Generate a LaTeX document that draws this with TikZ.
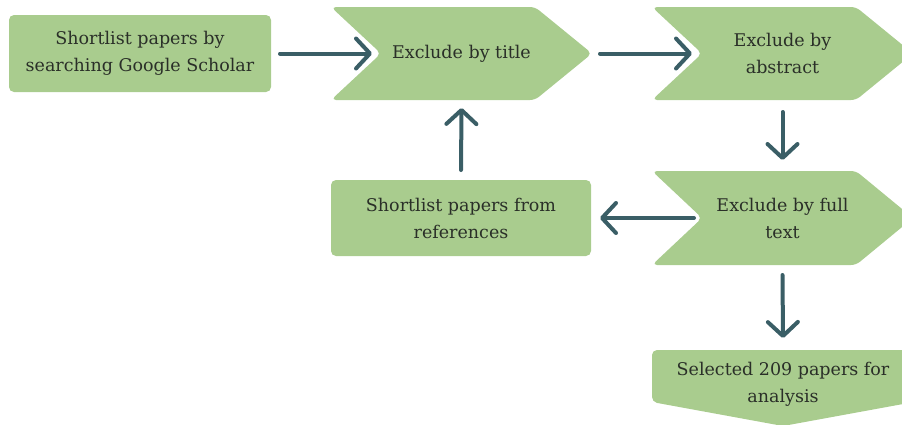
\documentclass[tikz,border=0pt]{standalone}
\usepackage{fontspec}
\setmainfont{DejaVu Serif}
\usetikzlibrary{arrows.meta,backgrounds}

\definecolor{boxgreen}{HTML}{A9CC8E}
\definecolor{arrowteal}{HTML}{3A5E66}
\definecolor{inkdark}{HTML}{2A2F28}

\tikzset{
  frame/.style={rectangle, draw=none, inner sep=0pt, outer sep=0pt, align=center,
    text=inkdark, font=\fontsize{17.5}{27}\selectfont},
  flowarrow/.style={draw=arrowteal, line width=4pt, line cap=round,
    -{Straight Barb[length=14pt,width=30pt,round]}},
}

% chevron pointing right, notched on the left
\newcommand\chevronfill[1]{%
  \fill[boxgreen, rounded corners=5pt]
    (#1.north west) -- ([xshift=-57pt]#1.north east) -- (#1.east)
    -- ([xshift=-57pt]#1.south east) -- (#1.south west)
    -- ([xshift=50pt]#1.west) -- cycle;}
% rounded box
\newcommand\boxfill[1]{%
  \fill[boxgreen, rounded corners=5pt] (#1.north west) rectangle (#1.south east);}
% box with a downward point
\newcommand\pentafill[1]{%
  \fill[boxgreen, rounded corners=5pt]
    (#1.north west) -- (#1.north east) -- ([yshift=16pt]#1.south east)
    -- ([yshift=-8pt]#1.south) -- ([yshift=16pt]#1.south west) -- cycle;}

\begin{document}
\begin{tikzpicture}[x=1pt,y=-1pt]
\useasboundingbox (0,0) rectangle (902,424);

\node[frame, minimum width=262pt, minimum height=77pt] (scholar) at (140,53.5)
  {Shortlist papers by\\searching Google Scholar};
\node[frame, minimum width=261pt, minimum height=93pt] (title) at (461.5,53.5)
  {Exclude by title};
\node[frame, minimum width=261pt, minimum height=93pt] (abstract) at (782.5,53.5)
  {Exclude by\\abstract};
\node[frame, minimum width=261pt, minimum height=94pt] (fulltext) at (782.5,218)
  {Exclude by full\\text};
\node[frame, minimum width=260pt, minimum height=76pt] (refs) at (461,218)
  {Shortlist papers from\\references};
\node[frame, minimum width=262pt, minimum height=68pt] (selected) at (783,384)
  {Selected 209 papers for\\analysis};

\begin{scope}[on background layer]
  \boxfill{scholar}
  \chevronfill{title}
  \chevronfill{abstract}
  \chevronfill{fulltext}
  \boxfill{refs}
  \pentafill{selected}
\end{scope}

% canvas yshift points up, so downward offsets are negative
\draw[flowarrow] ([xshift=9pt]scholar.east) -- ([xshift=41pt]title.west);
\draw[flowarrow] ([xshift=8pt]title.east) -- ([xshift=40pt]abstract.west);
\draw[flowarrow] ([yshift=-12pt]abstract.south) -- ([yshift=11pt]fulltext.north);
\draw[flowarrow] ([xshift=42pt]fulltext.west) -- ([xshift=9pt]refs.east);
\draw[flowarrow] ([yshift=10pt]refs.north) -- ([yshift=-8pt]title.south);
\draw[flowarrow] ([yshift=-10pt]fulltext.south) -- ([yshift=12pt]selected.north);
\end{tikzpicture}
\end{document}
